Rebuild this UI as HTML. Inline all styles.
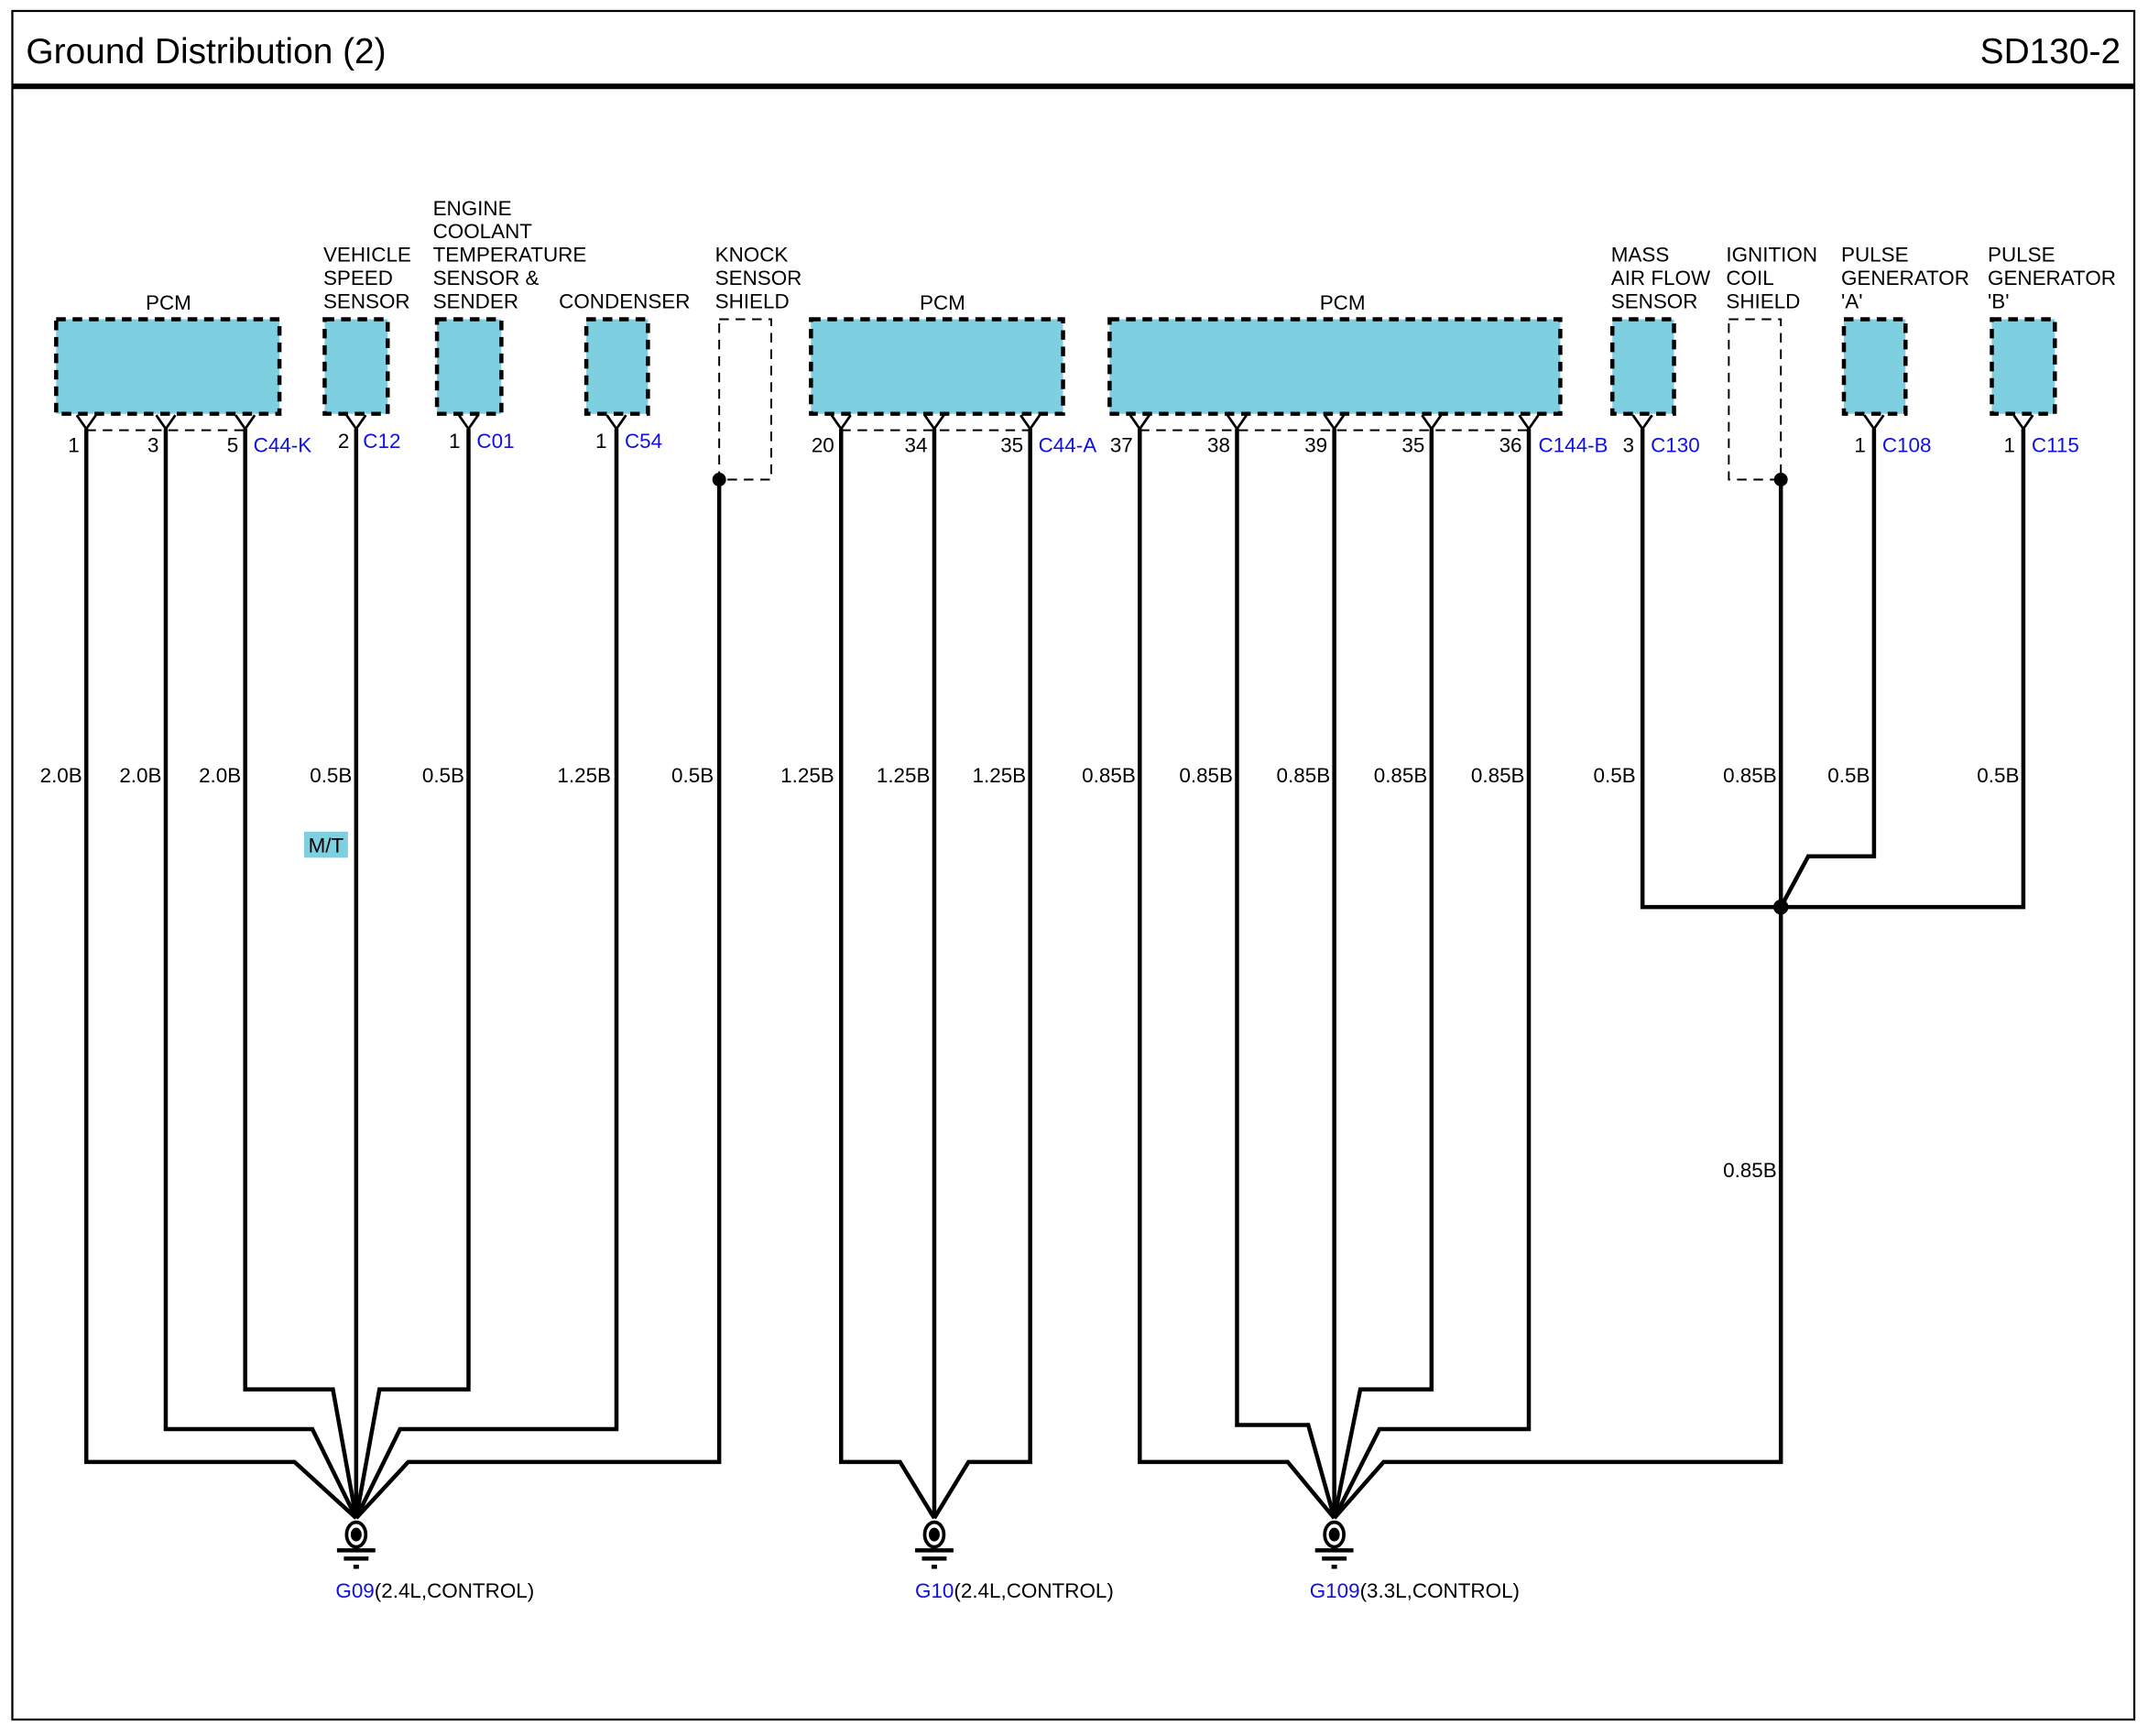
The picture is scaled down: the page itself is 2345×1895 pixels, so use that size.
<!DOCTYPE html>
<html><head><meta charset="utf-8"><style>
html,body{margin:0;padding:0;background:#fff;}
svg{display:block;}
text{font-family:"Liberation Sans",sans-serif;font-size:15px;fill:#000;}
.b{fill:#1010e0;}
.w{fill:none;stroke:#000;stroke-width:3;stroke-linejoin:miter;}
.box{fill:#7ecfe0;stroke:#000;stroke-width:3;stroke-dasharray:7,5;}
.sh{fill:none;stroke:#000;stroke-width:1.3;stroke-dasharray:7,5;}
.dl{fill:none;stroke:#000;stroke-width:1.3;stroke-dasharray:7,5;}
.pin{fill:none;stroke:#000;stroke-width:1.8;}
</style></head><body>
<svg width="2345" height="1895" viewBox="0 0 1568 1267" preserveAspectRatio="none" xmlns="http://www.w3.org/2000/svg">
<rect x="9" y="8" width="1549" height="1247" fill="none" stroke="#000" stroke-width="1.5"/>
<line x1="9" y1="63" x2="1558" y2="63" stroke="#000" stroke-width="4"/>
<text x="19" y="46" style="font-size:26px">Ground Distribution (2)</text>
<text x="1548" y="46" text-anchor="end" style="font-size:26px">SD130-2</text>

<!-- component labels -->
<text x="123" y="226" text-anchor="middle">PCM</text>
<text x="236" y="191">VEHICLE</text><text x="236" y="208">SPEED</text><text x="236" y="225">SENSOR</text>
<text x="316" y="157">ENGINE</text><text x="316" y="174">COOLANT</text><text x="316" y="191">TEMPERATURE</text><text x="316" y="208">SENSOR &amp;</text><text x="316" y="225">SENDER</text>
<text x="408" y="225">CONDENSER</text>
<text x="522" y="191">KNOCK</text><text x="522" y="208">SENSOR</text><text x="522" y="225">SHIELD</text>
<text x="688" y="226" text-anchor="middle">PCM</text>
<text x="980" y="226" text-anchor="middle">PCM</text>
<text x="1176" y="191">MASS</text><text x="1176" y="208">AIR FLOW</text><text x="1176" y="225">SENSOR</text>
<text x="1260" y="191">IGNITION</text><text x="1260" y="208">COIL</text><text x="1260" y="225">SHIELD</text>
<text x="1344" y="191">PULSE</text><text x="1344" y="208">GENERATOR</text><text x="1344" y="225">'A'</text>
<text x="1451" y="191">PULSE</text><text x="1451" y="208">GENERATOR</text><text x="1451" y="225">'B'</text>

<!-- boxes -->
<rect class="box" x="41" y="233" width="163" height="69"/>
<rect class="box" x="237" y="233" width="46" height="69"/>
<rect class="box" x="319" y="233" width="47" height="69"/>
<rect class="box" x="428" y="233" width="45" height="69"/>
<rect class="sh" x="525" y="233" width="38" height="117"/>
<rect class="box" x="592" y="233" width="184" height="69"/>
<rect class="box" x="810" y="233" width="329" height="69"/>
<rect class="box" x="1177" y="233" width="45" height="69"/>
<rect class="sh" x="1262" y="233" width="38" height="117"/>
<rect class="box" x="1346" y="233" width="45" height="69"/>
<rect class="box" x="1454" y="233" width="46" height="69"/>

<!-- pin Y symbols -->
<g class="pin">
<path d="M56,303 L63,313 L70,303"/><path d="M114,303 L121,313 L128,303"/><path d="M172,303 L179,313 L186,303"/>
<path d="M253,303 L260,313 L267,303"/><path d="M335,303 L342,313 L349,303"/><path d="M443,303 L450,313 L457,303"/>
<path d="M607,303 L614,313 L621,303"/><path d="M675,303 L682,313 L689,303"/><path d="M745,303 L752,313 L759,303"/>
<path d="M825,303 L832,313 L839,303"/><path d="M896,303 L903,313 L910,303"/><path d="M967,303 L974,313 L981,303"/><path d="M1038,303 L1045,313 L1052,303"/><path d="M1109,303 L1116,313 L1123,303"/>
<path d="M1192,303 L1199,313 L1206,303"/><path d="M1361,303 L1368,313 L1375,303"/><path d="M1470,303 L1477,313 L1484,303"/>
</g>
<line class="dl" x1="63" y1="314" x2="179" y2="314"/>
<line class="dl" x1="614" y1="314" x2="752" y2="314"/>
<line class="dl" x1="832" y1="314" x2="1116" y2="314"/>

<!-- pin numbers / connectors -->
<text x="58" y="330" text-anchor="end">1</text><text x="116" y="330" text-anchor="end">3</text><text x="174" y="330" text-anchor="end">5</text><text class="b" x="185" y="330">C44-K</text>
<text x="255" y="327" text-anchor="end">2</text><text class="b" x="265" y="327">C12</text>
<text x="336" y="327" text-anchor="end">1</text><text class="b" x="348" y="327">C01</text>
<text x="443" y="327" text-anchor="end">1</text><text class="b" x="456" y="327">C54</text>
<text x="609" y="330" text-anchor="end">20</text><text x="677" y="330" text-anchor="end">34</text><text x="747" y="330" text-anchor="end">35</text><text class="b" x="758" y="330">C44-A</text>
<text x="827" y="330" text-anchor="end">37</text><text x="898" y="330" text-anchor="end">38</text><text x="969" y="330" text-anchor="end">39</text><text x="1040" y="330" text-anchor="end">35</text><text x="1111" y="330" text-anchor="end">36</text><text class="b" x="1123" y="330">C144-B</text>
<text x="1193" y="330" text-anchor="end">3</text><text class="b" x="1205" y="330">C130</text>
<text x="1362" y="330" text-anchor="end">1</text><text class="b" x="1374" y="330">C108</text>
<text x="1471" y="330" text-anchor="end">1</text><text class="b" x="1483" y="330">C115</text>

<!-- wires G09 -->
<g class="w">
<path d="M63,313 V1067 H215 L260,1108"/>
<path d="M121,313 V1043 H228 L260,1108"/>
<path d="M179,313 V1014 H243 L260,1108"/>
<path d="M260,313 V1108"/>
<path d="M342,313 V1014 H277 L260,1108"/>
<path d="M450,313 V1043 H292 L260,1108"/>
<path d="M525,350 V1067 H298 L260,1108"/>
<!-- G10 -->
<path d="M614,313 V1067 H657 L682,1108"/>
<path d="M682,313 V1108"/>
<path d="M752,313 V1067 H707 L682,1108"/>
<!-- G109 -->
<path d="M832,313 V1067 H940 L974,1108"/>
<path d="M903,313 V1040 H955 L974,1108"/>
<path d="M974,313 V1108"/>
<path d="M1045,313 V1014 H993 L974,1108"/>
<path d="M1116,313 V1043 H1007 L974,1108"/>
<path d="M1300,350 V1067 H1010 L974,1108"/>
<!-- right cluster -->
<path d="M1199,313 V662 H1477 V313"/>
<path d="M1368,313 V625 H1320 L1300,662"/>
</g>
<circle cx="525" cy="350" r="5"/>
<circle cx="1300" cy="350" r="5"/>
<circle cx="1300" cy="662" r="5.5"/>

<!-- grounds -->
<g id="gnd">
<ellipse cx="260" cy="1120" rx="7" ry="9" fill="#fff" stroke="#000" stroke-width="2.5"/>
<ellipse cx="260" cy="1120" rx="4" ry="5"/>
<rect x="246" y="1130" width="28" height="3"/>
<rect x="251" y="1136" width="18" height="3"/>
<rect x="258" y="1142" width="4" height="3"/>
</g>
<g transform="translate(422,0)">
<ellipse cx="260" cy="1120" rx="7" ry="9" fill="#fff" stroke="#000" stroke-width="2.5"/>
<ellipse cx="260" cy="1120" rx="4" ry="5"/>
<rect x="246" y="1130" width="28" height="3"/><rect x="251" y="1136" width="18" height="3"/><rect x="258" y="1142" width="4" height="3"/>
</g>
<g transform="translate(714,0)">
<ellipse cx="260" cy="1120" rx="7" ry="9" fill="#fff" stroke="#000" stroke-width="2.5"/>
<ellipse cx="260" cy="1120" rx="4" ry="5"/>
<rect x="246" y="1130" width="28" height="3"/><rect x="251" y="1136" width="18" height="3"/><rect x="258" y="1142" width="4" height="3"/>
</g>
<text x="245" y="1166"><tspan class="b">G09</tspan>(2.4L,CONTROL)</text>
<text x="668" y="1166"><tspan class="b">G10</tspan>(2.4L,CONTROL)</text>
<text x="956" y="1166"><tspan class="b">G109</tspan>(3.3L,CONTROL)</text>

<!-- wire labels -->
<g text-anchor="end">
<text x="60" y="571">2.0B</text><text x="118" y="571">2.0B</text><text x="176" y="571">2.0B</text>
<text x="257" y="571">0.5B</text><text x="339" y="571">0.5B</text><text x="446" y="571">1.25B</text><text x="521" y="571">0.5B</text>
<text x="609" y="571">1.25B</text><text x="679" y="571">1.25B</text><text x="749" y="571">1.25B</text>
<text x="829" y="571">0.85B</text><text x="900" y="571">0.85B</text><text x="971" y="571">0.85B</text><text x="1042" y="571">0.85B</text><text x="1113" y="571">0.85B</text>
<text x="1194" y="571">0.5B</text><text x="1297" y="571">0.85B</text><text x="1365" y="571">0.5B</text><text x="1474" y="571">0.5B</text>
<text x="1297" y="859">0.85B</text>
</g>
<rect x="222" y="607" width="32" height="19" fill="#7ecfe0"/>
<text x="238" y="622" text-anchor="middle">M/T</text>
</svg>
</body></html>
